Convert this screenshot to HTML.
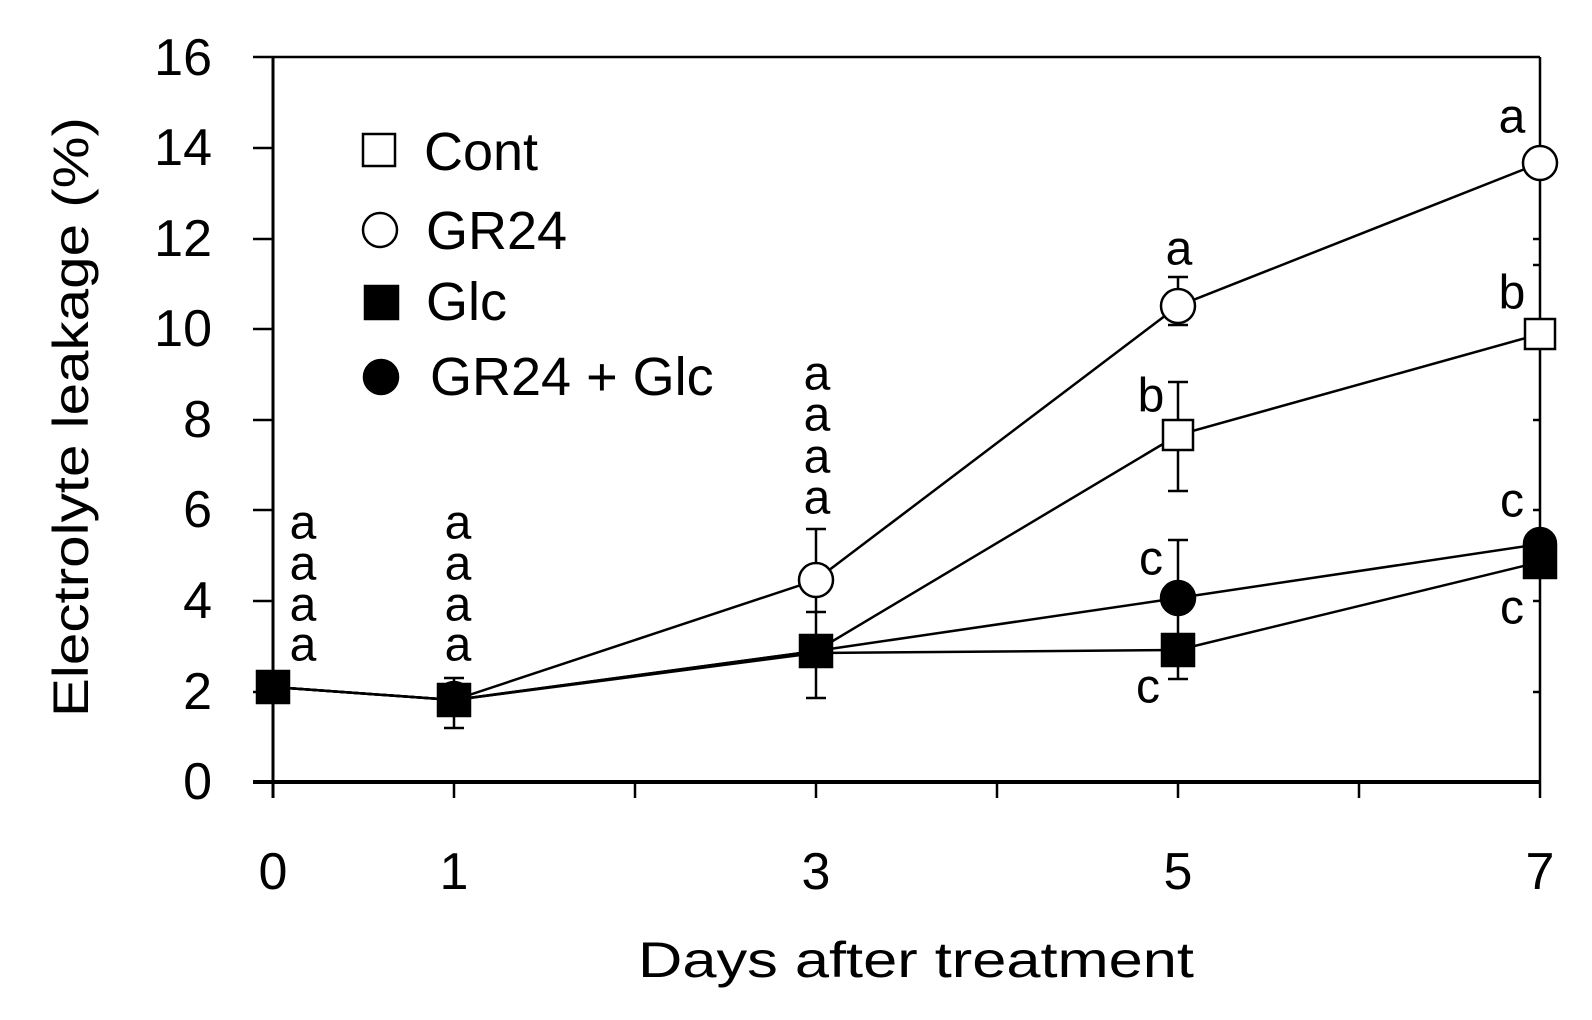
<!DOCTYPE html>
<html><head><meta charset="utf-8"><style>html,body{margin:0;padding:0;background:#fff}</style></head>
<body>
<svg width="1592" height="1015" viewBox="0 0 1592 1015" xmlns="http://www.w3.org/2000/svg" font-family="Liberation Sans, sans-serif">
<rect width="1592" height="1015" fill="#fff"/>
<!-- frame -->
<line x1="253" y1="57" x2="1540" y2="57" stroke="#000" stroke-width="2.5"/>
<line x1="1540" y1="57" x2="1540" y2="782" stroke="#000" stroke-width="2.5"/>
<line x1="273" y1="57" x2="273" y2="798" stroke="#000" stroke-width="3"/>
<line x1="253" y1="782" x2="1540" y2="782" stroke="#000" stroke-width="4"/>
<g stroke="#000" stroke-width="2.5">
<line x1="253" y1="148" x2="273" y2="148"/><line x1="253" y1="239" x2="273" y2="239"/>
<line x1="253" y1="329" x2="273" y2="329"/><line x1="253" y1="420" x2="273" y2="420"/>
<line x1="253" y1="510" x2="273" y2="510"/><line x1="253" y1="601" x2="273" y2="601"/>
<line x1="253" y1="692" x2="273" y2="692"/>
<line x1="1533" y1="148" x2="1540" y2="148"/><line x1="1533" y1="239" x2="1540" y2="239"/>
<line x1="1533" y1="265" x2="1540" y2="265"/>
<line x1="1533" y1="329" x2="1540" y2="329"/><line x1="1533" y1="420" x2="1540" y2="420"/>
<line x1="1533" y1="510" x2="1540" y2="510"/><line x1="1533" y1="601" x2="1540" y2="601"/>
<line x1="1533" y1="692" x2="1540" y2="692"/>
<line x1="454" y1="782" x2="454" y2="798"/><line x1="635" y1="782" x2="635" y2="798"/>
<line x1="816" y1="782" x2="816" y2="798"/><line x1="997" y1="782" x2="997" y2="798"/>
<line x1="1178" y1="782" x2="1178" y2="798"/><line x1="1359" y1="782" x2="1359" y2="798"/>
<line x1="1540" y1="782" x2="1540" y2="798"/>
</g>
<!-- y tick labels -->
<g font-size="52" text-anchor="end" dominant-baseline="central">
<text x="212" y="58">16</text><text x="212" y="148">14</text><text x="212" y="239">12</text>
<text x="212" y="329">10</text><text x="212" y="420">8</text><text x="212" y="510">6</text>
<text x="212" y="601">4</text><text x="212" y="692">2</text><text x="212" y="782">0</text>
</g>
<g font-size="52" text-anchor="middle" dominant-baseline="central">
<text x="273" y="872">0</text><text x="454" y="872">1</text><text x="816" y="872">3</text>
<text x="1178" y="872">5</text><text x="1540" y="872">7</text>
</g>
<text x="916" y="960" font-size="50" text-anchor="middle" dominant-baseline="central" textLength="556" lengthAdjust="spacingAndGlyphs">Days after treatment</text>
<text transform="translate(71,417) rotate(-90)" font-size="50" text-anchor="middle" dominant-baseline="central" textLength="600" lengthAdjust="spacingAndGlyphs">Electrolyte leakage (%)</text>
<!-- error bars -->
<g stroke="#000" stroke-width="2.5">
<line x1="454" y1="678" x2="454" y2="728"/><line x1="444" y1="678" x2="464" y2="678"/><line x1="444" y1="728" x2="464" y2="728"/>
<line x1="816" y1="529" x2="816" y2="698"/><line x1="806" y1="529" x2="826" y2="529"/><line x1="806" y1="698" x2="826" y2="698"/><line x1="806" y1="612" x2="826" y2="612"/>
<line x1="1178" y1="382" x2="1178" y2="491"/><line x1="1168" y1="382" x2="1188" y2="382"/><line x1="1168" y1="491" x2="1188" y2="491"/>
<line x1="1178" y1="540" x2="1178" y2="679"/><line x1="1168" y1="540" x2="1188" y2="540"/><line x1="1168" y1="679" x2="1188" y2="679"/>
<line x1="1178" y1="277" x2="1178" y2="325"/><line x1="1168" y1="277" x2="1188" y2="277"/><line x1="1168" y1="325" x2="1188" y2="325"/>
</g>
<!-- series lines -->
<g fill="none" stroke="#000" stroke-width="2.5">
<polyline points="273,687 454,700 816,580 1178,306 1540,163"/>
<polyline points="273,687 454,700 816,651 1178,435 1540,334"/>
<polyline points="273,687 454,700 816,653 1178,650 1540,562"/>
<polyline points="273,687 454,700 816,651 1178,598 1540,544"/>
</g>
<!-- markers -->
<g stroke="#000" stroke-width="2.5">
<rect x="257" y="671" width="32" height="32" fill="#000"/>
<rect x="438" y="684" width="32" height="32" fill="#000"/>
<circle cx="454" cy="698" r="16" fill="#000"/>
<rect x="800" y="635" width="32" height="32" fill="#000"/>
<circle cx="816" cy="580" r="17" fill="#fff"/>
<rect x="1163" y="420" width="30" height="30" fill="#fff"/>
<circle cx="1178" cy="306" r="17" fill="#fff"/>
<circle cx="1178" cy="598" r="17" fill="#000"/>
<rect x="1162" y="634" width="32" height="32" fill="#000"/>
<circle cx="1540" cy="163" r="17" fill="#fff"/>
<rect x="1525" y="319" width="30" height="30" fill="#fff"/>
<rect x="1524" y="546" width="32" height="32" fill="#000"/>
<circle cx="1540" cy="544" r="16" fill="#000"/>
</g>
<!-- significance letters -->
<g font-size="48" text-anchor="middle" dominant-baseline="central">
<text x="303" y="523">a</text><text x="303" y="564">a</text><text x="303" y="605">a</text><text x="303" y="645">a</text>
<text x="458" y="523">a</text><text x="458" y="564">a</text><text x="458" y="605">a</text><text x="458" y="645">a</text>
<text x="817" y="374">a</text><text x="817" y="415">a</text><text x="817" y="457">a</text><text x="817" y="498">a</text>
<text x="1179" y="249">a</text><text x="1151" y="396">b</text><text x="1151" y="559">c</text><text x="1148" y="687">c</text>
<text x="1512" y="117">a</text><text x="1512" y="293">b</text><text x="1512" y="501">c</text><text x="1512" y="608">c</text>
</g>
<!-- legend -->
<g stroke="#000" stroke-width="2.5">
<rect x="363" y="134" width="32" height="32" fill="#fff"/>
<circle cx="380" cy="230" r="17" fill="#fff"/>
<rect x="365" y="286" width="33" height="33" fill="#000"/>
<circle cx="381" cy="377" r="17" fill="#000"/>
</g>
<g font-size="54" dominant-baseline="central">
<text x="424" y="152">Cont</text>
<text x="426" y="231">GR24</text>
<text x="426" y="302">Glc</text>
<text x="430" y="377">GR24 + Glc</text>
</g>
</svg>
</body></html>
